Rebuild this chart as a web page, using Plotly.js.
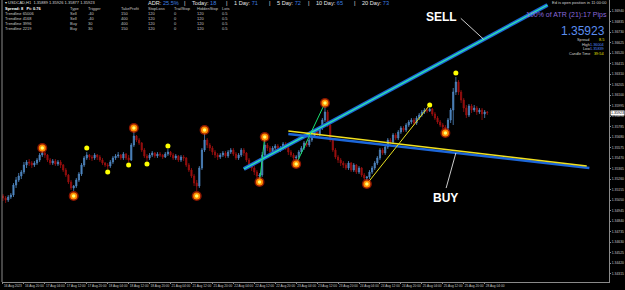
<!DOCTYPE html>
<html><head><meta charset="utf-8">
<script src="https://cdn.plot.ly/plotly-3.0.1.min.js"></script>
<style>html,body{margin:0;padding:0;background:#000;}#c{width:625px;height:290px;}</style>
</head><body><div id="c"></div>
<script>
const opens=[1.3509,1.3507,1.3505,1.3508,1.3510,1.3520,1.3525,1.3529,1.3533,1.3540,1.3543,1.3542,1.3540,1.3542,1.3545,1.3550,1.3552,1.3550,1.3545,1.3542,1.3544,1.3541,1.3543,1.3540,1.3535,1.3530,1.3523,1.3517,1.3519,1.3525,1.3531,1.3540,1.3547,1.3550,1.3548,1.3547,1.3550,1.3548,1.3545,1.3542,1.3540,1.3539,1.3543,1.3547,1.3549,1.3550,1.3547,1.3551,1.3547,1.3545,1.3560,1.3569,1.3565,1.3562,1.3555,1.3549,1.3547,1.3550,1.3552,1.3549,1.3551,1.3550,1.3548,1.3551,1.3553,1.3550,1.3547,1.3549,1.3545,1.3548,1.3547,1.3540,1.3535,1.3529,1.3522,1.3519,1.3537,1.3555,1.3565,1.3560,1.3557,1.3553,1.3550,1.3548,1.3550,1.3552,1.3549,1.3553,1.3555,1.3551,1.3547,1.3550,1.3555,1.3552,1.3545,1.3540,1.3537,1.3533,1.3529,1.3530,1.3550,1.3560,1.3557,1.3553,1.3557,1.3559,1.3555,1.3557,1.3561,1.3557,1.3553,1.3550,1.3547,1.3548,1.3553,1.3557,1.3562,1.3560,1.3565,1.3569,1.3573,1.3571,1.3577,1.3585,1.3593,1.3580,1.3565,1.3555,1.3548,1.3545,1.3542,1.3540,1.3537,1.3542,1.3535,1.3540,1.3533,1.3537,1.3530,1.3527,1.3528,1.3533,1.3537,1.3542,1.3547,1.3555,1.3552,1.3558,1.3565,1.3563,1.3570,1.3567,1.3573,1.3577,1.3575,1.3580,1.3583,1.3585,1.3582,1.3587,1.3590,1.3593,1.3595,1.3594,1.3596,1.3591,1.3587,1.3583,1.3580,1.3578,1.3577,1.3585,1.3595,1.3613,1.3623,1.3613,1.3605,1.3597,1.3590,1.3599,1.3595,1.3597,1.3593,1.3595,1.3591,1.3593];
const highs=[1.3511,1.3509,1.3510,1.3512,1.3522,1.3528,1.3532,1.3535,1.3543,1.3545,1.3546,1.3544,1.3544,1.3547,1.3552,1.3554,1.3553,1.3551,1.3547,1.3546,1.3546,1.3545,1.3545,1.3541,1.3537,1.3531,1.3525,1.3520,1.3527,1.3533,1.3542,1.3549,1.3553,1.3551,1.3550,1.3552,1.3551,1.3550,1.3547,1.3543,1.3542,1.3545,1.3549,1.3551,1.3553,1.3551,1.3553,1.3552,1.3550,1.3562,1.3573,1.3570,1.3567,1.3563,1.3557,1.3551,1.3552,1.3554,1.3553,1.3553,1.3553,1.3551,1.3553,1.3556,1.3554,1.3552,1.3551,1.3550,1.3550,1.3550,1.3548,1.3542,1.3537,1.3531,1.3525,1.3539,1.3557,1.3571,1.3567,1.3562,1.3559,1.3555,1.3552,1.3552,1.3554,1.3554,1.3555,1.3557,1.3557,1.3553,1.3552,1.3557,1.3557,1.3553,1.3547,1.3542,1.3539,1.3535,1.3532,1.3553,1.3565,1.3562,1.3559,1.3559,1.3561,1.3561,1.3559,1.3563,1.3563,1.3558,1.3555,1.3552,1.3550,1.3555,1.3559,1.3564,1.3564,1.3567,1.3571,1.3575,1.3576,1.3579,1.3587,1.3598,1.3595,1.3582,1.3567,1.3557,1.3550,1.3547,1.3544,1.3542,1.3544,1.3543,1.3542,1.3541,1.3539,1.3538,1.3532,1.3529,1.3535,1.3539,1.3544,1.3549,1.3557,1.3557,1.3560,1.3567,1.3567,1.3572,1.3572,1.3575,1.3579,1.3579,1.3582,1.3585,1.3587,1.3587,1.3589,1.3592,1.3595,1.3597,1.3597,1.3597,1.3597,1.3593,1.3589,1.3585,1.3582,1.3580,1.3587,1.3597,1.3617,1.3628,1.3625,1.3615,1.3607,1.3600,1.3601,1.3601,1.3600,1.3599,1.3597,1.3597,1.3595,1.3594];
const lows=[1.3504,1.3502,1.3503,1.3506,1.3508,1.3517,1.3523,1.3526,1.3531,1.3537,1.3539,1.3537,1.3538,1.3540,1.3543,1.3548,1.3547,1.3543,1.3540,1.3540,1.3539,1.3539,1.3537,1.3533,1.3528,1.3521,1.3515,1.3514,1.3517,1.3523,1.3529,1.3538,1.3545,1.3545,1.3544,1.3545,1.3545,1.3543,1.3540,1.3538,1.3536,1.3537,1.3541,1.3545,1.3547,1.3545,1.3545,1.3545,1.3543,1.3544,1.3558,1.3563,1.3560,1.3553,1.3547,1.3544,1.3545,1.3548,1.3547,1.3547,1.3548,1.3546,1.3547,1.3549,1.3548,1.3545,1.3545,1.3543,1.3543,1.3544,1.3538,1.3533,1.3527,1.3519,1.3514,1.3517,1.3535,1.3553,1.3557,1.3554,1.3550,1.3547,1.3545,1.3546,1.3548,1.3547,1.3547,1.3551,1.3549,1.3545,1.3545,1.3548,1.3549,1.3543,1.3538,1.3534,1.3530,1.3527,1.3526,1.3528,1.3548,1.3554,1.3551,1.3551,1.3554,1.3552,1.3553,1.3555,1.3555,1.3550,1.3548,1.3545,1.3545,1.3546,1.3551,1.3555,1.3558,1.3558,1.3563,1.3567,1.3568,1.3569,1.3575,1.3583,1.3578,1.3563,1.3553,1.3546,1.3542,1.3539,1.3537,1.3535,1.3535,1.3533,1.3533,1.3531,1.3531,1.3528,1.3525,1.3525,1.3526,1.3531,1.3535,1.3540,1.3545,1.3550,1.3550,1.3556,1.3560,1.3561,1.3565,1.3565,1.3571,1.3573,1.3573,1.3578,1.3581,1.3580,1.3580,1.3585,1.3588,1.3591,1.3592,1.3593,1.3589,1.3585,1.3581,1.3578,1.3576,1.3575,1.3575,1.3582,1.3580,1.3610,1.3610,1.3602,1.3593,1.3587,1.3588,1.3592,1.3593,1.3590,1.3591,1.3585,1.3587,1.3590];
const closes=[1.3507,1.3505,1.3508,1.3510,1.3520,1.3525,1.3529,1.3533,1.3540,1.3543,1.3542,1.3540,1.3542,1.3545,1.3550,1.3552,1.3550,1.3545,1.3542,1.3544,1.3541,1.3543,1.3540,1.3535,1.3530,1.3523,1.3517,1.3519,1.3525,1.3531,1.3540,1.3547,1.3550,1.3548,1.3547,1.3550,1.3548,1.3545,1.3542,1.3540,1.3539,1.3543,1.3547,1.3549,1.3550,1.3547,1.3551,1.3547,1.3545,1.3560,1.3569,1.3565,1.3562,1.3555,1.3549,1.3547,1.3550,1.3552,1.3549,1.3551,1.3550,1.3548,1.3551,1.3553,1.3550,1.3547,1.3549,1.3545,1.3548,1.3547,1.3540,1.3535,1.3529,1.3522,1.3519,1.3537,1.3555,1.3565,1.3560,1.3557,1.3553,1.3550,1.3548,1.3550,1.3552,1.3549,1.3553,1.3555,1.3551,1.3547,1.3550,1.3555,1.3552,1.3545,1.3540,1.3537,1.3533,1.3529,1.3530,1.3550,1.3560,1.3557,1.3553,1.3557,1.3559,1.3555,1.3557,1.3561,1.3557,1.3553,1.3550,1.3547,1.3548,1.3553,1.3557,1.3562,1.3560,1.3565,1.3569,1.3573,1.3571,1.3577,1.3585,1.3593,1.3580,1.3565,1.3555,1.3548,1.3545,1.3542,1.3540,1.3537,1.3542,1.3535,1.3540,1.3533,1.3537,1.3530,1.3527,1.3528,1.3533,1.3537,1.3542,1.3547,1.3555,1.3552,1.3558,1.3565,1.3563,1.3570,1.3567,1.3573,1.3577,1.3575,1.3580,1.3583,1.3585,1.3582,1.3587,1.3590,1.3593,1.3595,1.3594,1.3596,1.3591,1.3587,1.3583,1.3580,1.3578,1.3577,1.3585,1.3595,1.3613,1.3623,1.3613,1.3605,1.3597,1.3590,1.3599,1.3595,1.3597,1.3593,1.3595,1.3591,1.3593,1.35923];
const dateLabels=["16 Aug 2023","16 Aug 20:00","17 Aug 04:00","17 Aug 12:00","17 Aug 20:00","18 Aug 04:00","18 Aug 12:00","18 Aug 20:00","21 Aug 04:00","21 Aug 12:00","21 Aug 20:00","22 Aug 04:00","22 Aug 12:00","22 Aug 20:00","23 Aug 04:00","23 Aug 12:00","23 Aug 20:00","24 Aug 04:00","24 Aug 12:00","24 Aug 20:00","25 Aug 04:00","25 Aug 12:00","25 Aug 20:00","28 Aug 04:00"];
const barsPerLabel=8;
const priceTicks=[1.36940,1.36835,1.36730,1.36625,1.36520,1.36415,1.36310,1.36205,1.36100,1.35995,1.35890,1.35785,1.35680,1.35575,1.35470,1.35365,1.35260,1.35155,1.35050,1.34945,1.34840,1.34735,1.34630,1.34525,1.34420,1.34315];
const lastPrice=1.35923;
const bigFractalIdx=[15,27,50,74,77,98,100,112,123,139,169];
const bigFractalPrice=[1.3557,1.3509,1.3577,1.3509,1.3575,1.3523,1.3568,1.3541,1.3602,1.3521,1.3572];
const smallFractalIdx=[32,40,48,55,63,163,173];
const smallFractalPrice=[1.3557,1.3533,1.3540,1.3541,1.3559,1.3600,1.3632];
const sellLineIdx=[92,208]; const sellLinePrice=[1.3536,1.3700];
const buyLineIdx=[109,223]; const buyLinePrice=[1.3574,1.3539];
const buyLine2Idx=[109,224]; const buyLine2Price=[1.3571,1.3537];
const greenLine1Idx=[98,100]; const greenLine1Price=[1.3523,1.3568];
const greenLine2Idx=[112,123]; const greenLine2Price=[1.3541,1.3602];
const yellowLineIdx=[139,163]; const yellowLinePrice=[1.3521,1.3600];
const sellPointerIdx=183.5, sellPointerPrice=1.3666;
const buyPointerIdx=173, buyPointerPrice=1.3552;
const tableNames=["Trendline 65006","Trendline 4168","Trendline 3996","Trendline 2219"];
const tableType=["Sell","Sell","Buy","Buy"];
const tableTrigger=["-40","-40","30","30"];
const tableTP=["150","400","400","150"];
const tableSL=["120","120","120","120"];
const tableTrail=["0","0","0","0"];
const tableHidden=["120","120","120","120"];
const tableLots=["0.5","0.5","0.5","0.5"];
const adrItems=[["ADR:","25.5%"],["Today:","18"],["1 Day:","71"],["5 Day:","72"],["10 Day:","65"],["20 Day:","73"]];

const idx=closes.map((_,i)=>i);
const W=625,H=290,ML=2,MR=16,MT=0,MB=8;
const PW=W-ML-MR, PH=H-MT-MB;
const px=x=>(x-ML)/PW, py=y=>1-(y-MT)/PH;
const FF="Liberation Sans, Arial, sans-serif";
const ann=[];
function T(x,y,text,size,color,anchor,bold){ann.push({xref:'paper',yref:'paper',x:px(x),y:py(y),text:bold?'<b>'+text+'</b>':text,showarrow:false,xanchor:anchor||'left',yanchor:'middle',font:{family:FF,size:size,color:color}});}

// top-left info
T(3,3,"▾ USDCAD,H1  1.35889 1.35926 1.35877 1.35923",4,"#d8d8d8");
T(3,8.6,"Spread: 8   Pt: 0.76",4,"#ffffff",null,true);
const colX=[68,86,119,146,172,195,220];
const headers=["Type","Trigger","TakeProfit","StopLoss","TrailStop","HiddenStop","Lots"];
headers.forEach((h,k)=>T(colX[k],8.8,h,4,"#c8c8c8"));
const cols=[tableType,tableTrigger,tableTP,tableSL,tableTrail,tableHidden,tableLots];
tableNames.forEach((n,r)=>{const y=13.6+r*5;T(3,y,n,4,"#c8c8c8");cols.forEach((c,k)=>T(colX[k],y,c[r],4,"#c8c8c8"));});
// ADR bar
const adrX=[146,190,232,275,314,360];
adrItems.forEach((it,k)=>{ann.push({xref:'paper',yref:'paper',x:px(adrX[k]),y:py(3.1),showarrow:false,xanchor:'left',yanchor:'middle',text:it[0]+' <span style="color:#3d7fe0">'+it[1]+'</span>',font:{family:FF,size:5.6,color:'#e8e8e8'}}); if(k<adrItems.length-1) T(adrX[k+1]-6,3.1,"|",5.6,"#e8e8e8","center");});
// right panel
T(609,3,"Ed is open position in 11:00:00",4,"#d0d0d0","right");
T(609,15,"100% of ATR (21):17 Pips",7,"#8a68dc","right");
T(607,31.5,"1.35923",12,"#5b8ef0","right");
T(591,40.5,"Spread",3.8,"#d0d0d0","right");T(606,40.5,"8.5",3.8,"#e8e000","right");
T(592,45,"High",3.8,"#d0d0d0","right");T(606,45,"1.36004",3.8,"#4f8af0","right");
T(592,49.5,"Low",3.8,"#d0d0d0","right");T(606,49.5,"1.35839",3.8,"#4f8af0","right");
T(592,54,"Candle Time",3.8,"#d0d0d0","right");T(606,54,"39:54",3.8,"#e8e000","right");
// SELL / BUY labels with pointers
ann.push({xref:'x',yref:'y',x:sellPointerIdx,y:sellPointerPrice,ax:-24,ay:-22,text:'<b>SELL</b>',showarrow:true,arrowhead:0,arrowwidth:0.8,arrowcolor:'#ffffff',standoff:0,startstandoff:2,xanchor:'right',yanchor:'middle',font:{family:FF,size:12,color:'#ffffff'}});
ann.push({xref:'x',yref:'y',x:buyPointerIdx,y:buyPointerPrice,ax:-10,ay:36,text:'<b>BUY</b>',showarrow:true,arrowhead:0,arrowwidth:0.8,arrowcolor:'#ffffff',standoff:0,startstandoff:1,xanchor:'center',yanchor:'top',font:{family:FF,size:12,color:'#ffffff'}});
// last price box
ann.push({xref:'paper',yref:'y',x:1,y:lastPrice,xanchor:'left',yanchor:'middle',xshift:1,showarrow:false,text:'1.35923',bgcolor:'#ffffff',borderpad:0,font:{family:FF,size:3.6,color:'#000000'}});

const traces=[
{type:'candlestick',x:idx,open:opens,high:highs,low:lows,close:closes,
 increasing:{line:{color:'#4f86c0',width:0.8},fillcolor:'#4f86c0'},
 decreasing:{line:{color:'#9a0f0f',width:0.8},fillcolor:'#9a0f0f'},whiskerwidth:0,hoverinfo:'skip'},
{type:'scatter',mode:'lines',x:sellLineIdx,y:sellLinePrice,line:{color:'#1c66d8',width:4}},
{type:'scatter',mode:'lines',x:sellLineIdx,y:sellLinePrice,line:{color:'#2ee8a8',width:1.3}},
{type:'scatter',mode:'lines',x:buyLine2Idx,y:buyLine2Price,line:{color:'#1c66d8',width:2.5}},
{type:'scatter',mode:'lines',x:buyLineIdx,y:buyLinePrice,line:{color:'#f0e020',width:1.5}},
{type:'scatter',mode:'lines',x:greenLine1Idx,y:greenLine1Price,line:{color:'#18e070',width:1}},
{type:'scatter',mode:'lines',x:greenLine2Idx,y:greenLine2Price,line:{color:'#18e070',width:1}},
{type:'scatter',mode:'lines',x:yellowLineIdx,y:yellowLinePrice,line:{color:'#e8e020',width:1}},
{type:'scatter',mode:'markers',x:bigFractalIdx,y:bigFractalPrice,marker:{size:10,color:'rgba(255,40,0,0.55)'}},
{type:'scatter',mode:'markers',x:bigFractalIdx,y:bigFractalPrice,marker:{size:7,color:'#ff8c00'}},
{type:'scatter',mode:'markers',x:bigFractalIdx,y:bigFractalPrice,marker:{size:3.5,color:'#ffff70'}},
{type:'scatter',mode:'markers',x:smallFractalIdx,y:smallFractalPrice,marker:{size:5,color:'#ffff00'}}
];
const layout={width:W,height:H,paper_bgcolor:'#000',plot_bgcolor:'#000',showlegend:false,
 margin:{l:ML,r:MR,t:MT,b:MB,pad:0},boxgap:0.35,
 xaxis:{range:[-0.38,231.5],showgrid:false,zeroline:false,showline:true,linecolor:'#8a8a8a',linewidth:1,
  ticks:'outside',ticklen:1,tickcolor:'#8a8a8a',tickvals:dateLabels.map((_,k)=>k*barsPerLabel),ticktext:dateLabels,tickangle:0,
  ticklabelposition:'outside right',tickfont:{family:FF,size:3.2,color:'#c8c8c8'},rangeslider:{visible:false},fixedrange:true},
 yaxis:{side:'right',range:[1.3423,1.3705],showgrid:false,zeroline:false,showline:true,linecolor:'#8a8a8a',linewidth:1,
  ticks:'outside',ticklen:1,tickcolor:'#8a8a8a',tickvals:priceTicks,tickformat:'.5f',tickfont:{family:FF,size:3.4,color:'#c8c8c8'}},
 shapes:[{type:'line',xref:'paper',yref:'paper',x0:0,x1:0,y0:0,y1:1,line:{color:'#8a8a8a',width:1}}],
 annotations:ann};
Plotly.newPlot('c',traces,layout,{staticPlot:true,displayModeBar:false});
</script></body></html>
